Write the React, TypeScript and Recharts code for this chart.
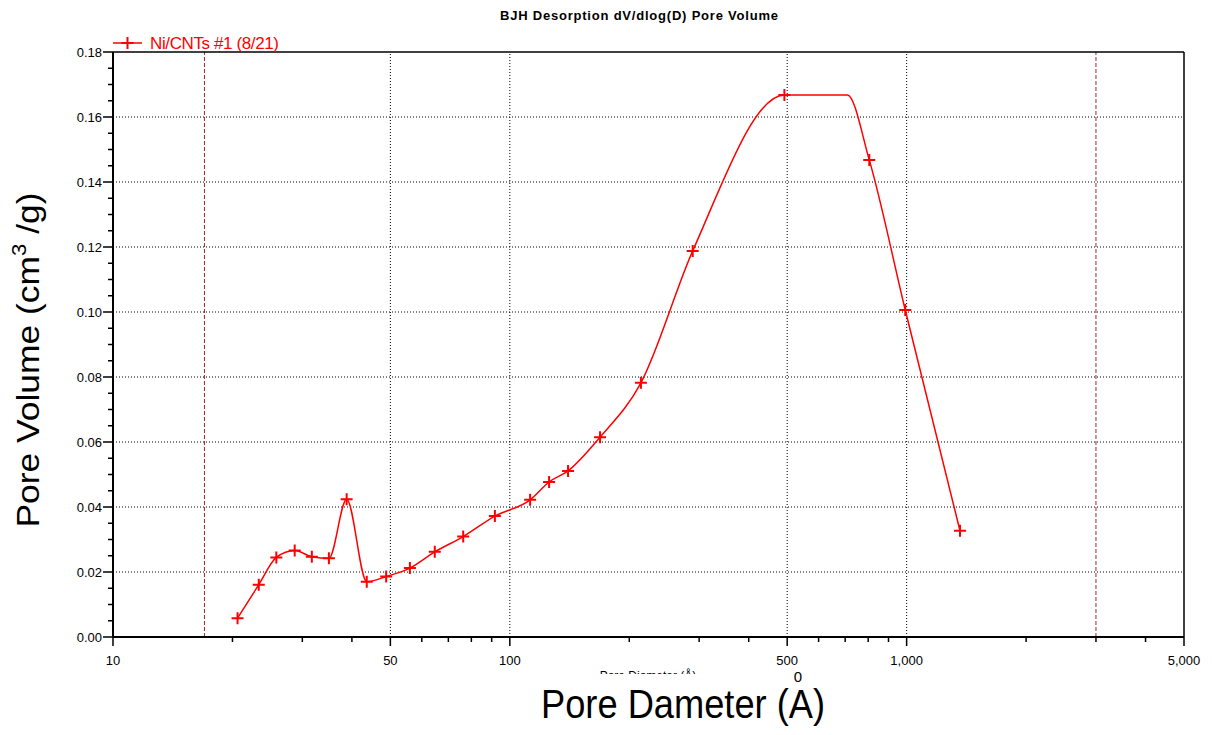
import React from "react"
import { LineChart, Line, XAxis, YAxis, ReferenceLine } from "recharts"

const FONT = '"Liberation Sans", Arial, Helvetica, sans-serif'

// BJH desorption points: pore diameter (Å) and dV/dlog(D) (cm³/g)
const poreDiameter = [
  20.6, 23.3, 25.8, 28.7, 31.7, 35.0, 38.8, 43.6, 48.8, 56.0, 64.7, 76.3,
  91.7, 112.5, 125.6, 140.2, 168.8, 214, 289, 492, 805, 992, 1363,
]
const poreVolume = [
  0.0058, 0.0161, 0.0245, 0.0266, 0.0247, 0.0242, 0.0424, 0.017, 0.0186,
  0.0212, 0.0262, 0.0309, 0.0372, 0.0422, 0.0477, 0.0511, 0.0615, 0.0782,
  0.1188, 0.1668, 0.1468, 0.1006, 0.0327,
]

// where the plotted curve leaves its flat top (no marker there)
const shoulderDiameter = [709]
const shoulderVolume = [0.1668]

// BJH calculation limits (red dashed)
const rangeLimits = [17, 3000]

// axis ticks
const xMajor = [10, 50, 100, 500, 1000, 5000]
const xMinor = [20, 30, 40, 60, 70, 80, 90, 200, 300, 400, 600, 700, 800, 900, 2000, 3000, 4000]
const xGrid = [50, 100, 500, 1000]
const yMajor = [0, 0.02, 0.04, 0.06, 0.08, 0.1, 0.12, 0.14, 0.16, 0.18]

const seriesName = "Ni/CNTs #1 (8/21)"

type Pt = { d: number; v: number; marked: boolean }

const lineData: Pt[] = [
  ...poreDiameter.map((d, i) => ({ d, v: poreVolume[i], marked: true })),
  ...shoulderDiameter.map((d, i) => ({ d, v: shoulderVolume[i], marked: false })),
].sort((a, b) => a.d - b.d)

const yTicks: number[] = []
yMajor.forEach((t, i) => {
  yTicks.push(t)
  if (i < yMajor.length - 1) {
    const step = (yMajor[i + 1] - t) / 4
    for (let k = 1; k < 4; k++) yTicks.push(+(t + step * k).toFixed(4))
  }
})
const xTicks = [...xMajor, ...xMinor].sort((a, b) => a - b)

const isMajorY = (v: number) => yMajor.some((m) => Math.abs(m - v) < 1e-6)

// tick marks of 5px come from tickLine; majors get a longer mark + label here
const XTick = (props: any) => {
  const { x, y, payload } = props
  const v = payload.value as number
  if (!xMajor.includes(v)) return <g />
  return (
    <g>
      <line x1={x} x2={x} y1={y} y2={y + 4} stroke="#000" strokeWidth={1.5} />
      <text x={x} y={y + 23} textAnchor="middle" fontSize={13} fontFamily={FONT} fill="#000">
        {v.toLocaleString("en-US")}
      </text>
    </g>
  )
}

const YTick = (props: any) => {
  const { x, y, payload } = props
  const v = payload.value as number
  if (!isMajorY(v)) return <g />
  return (
    <g>
      <line x1={x - 5} x2={x} y1={y} y2={y} stroke="#000" strokeWidth={1.5} />
      <text x={x - 6} y={y + 4.5} textAnchor="end" fontSize={13} fontFamily={FONT} fill="#000">
        {v.toFixed(2)}
      </text>
    </g>
  )
}

const Cross = (props: any) => {
  const { cx, cy, payload, index } = props
  if (!payload?.marked || cx == null || cy == null) return <g key={`c${index}`} />
  return (
    <path
      key={`c${index}`}
      d={`M${cx - 6},${cy}H${cx + 6}M${cx},${cy - 6}V${cy + 6}`}
      stroke="#ff0000"
      strokeWidth={2}
      fill="none"
    />
  )
}

export default function App() {
  return (
    <div style={{ position: "absolute", left: 0, top: 0, width: 1212, height: 735, background: "#fff" }}>
      <LineChart
        width={1212}
        height={735}
        data={lineData}
        margin={{ top: 52, right: 28, bottom: 68, left: 53 }}
      >
        {/* dotted grid */}
        {yMajor.slice(1, -1).map((v) => (
          <ReferenceLine key={`h${v}`} y={v} stroke="#000" strokeDasharray="1 2" strokeWidth={1} />
        ))}
        {xGrid.map((v) => (
          <ReferenceLine key={`v${v}`} x={v} stroke="#000" strokeDasharray="1 2" strokeWidth={1} />
        ))}
        {rangeLimits.map((v) => (
          <ReferenceLine key={`r${v}`} x={v} stroke="#a0282a" strokeDasharray="4 2" strokeWidth={1} />
        ))}
        {/* frame */}
        <ReferenceLine y={0.18} stroke="#000" strokeWidth={1.5} />
        <ReferenceLine x={5000} stroke="#000" strokeWidth={1.5} />

        <XAxis
          dataKey="d"
          type="number"
          scale="log"
          domain={[10, 5000]}
          allowDataOverflow
          ticks={xTicks}
          interval={0}
          tickSize={5}
          tickMargin={0}
          tickLine={{ stroke: "#000", strokeWidth: 1.5 }}
          tick={(p: any) => <XTick {...p} />}
          axisLine={{ stroke: "#000", strokeWidth: 2 }}
          height={30}
        />
        <YAxis
          type="number"
          domain={[0, 0.18]}
          allowDataOverflow
          ticks={yTicks}
          interval={0}
          tickSize={5}
          tickMargin={0}
          tickLine={{ stroke: "#000", strokeWidth: 1.5 }}
          tick={(p: any) => <YTick {...p} />}
          axisLine={{ stroke: "#000", strokeWidth: 2 }}
          width={60}
        />
        <Line
          type="monotone"
          dataKey="v"
          name={seriesName}
          stroke="#ff0000"
          strokeWidth={1.5}
          dot={Cross}
          activeDot={false}
          isAnimationActive={false}
        />
      </LineChart>

      <svg
        width={1212}
        height={735}
        style={{ position: "absolute", left: 0, top: 0, pointerEvents: "none" }}
        fontFamily={FONT}
      >
        <text x={639} y={20} textAnchor="middle" fontSize={13} fontWeight="bold" fill="#000" textLength={278}>
          BJH Desorption dV/dlog(D) Pore Volume
        </text>

        {/* legend */}
        <line x1={113} x2={142} y1={43} y2={43} stroke="#ff0000" strokeWidth={1.5} />
        <path d="M121.5,43H133.5M127.5,37V49" stroke="#ff0000" strokeWidth={2} />
        <text x={150} y={49} fontSize={17} fill="#ff0000" textLength={129}>
          {seriesName}
        </text>

        {/* y axis title */}
        <text
          x={39}
          y={360}
          transform="rotate(-90 39 360)"
          textAnchor="middle"
          fontSize={32}
          fill="#000"
          textLength={335}
          lengthAdjust="spacingAndGlyphs"
        >
          Pore Volume (cm
          <tspan dy={-13} fontSize={20}>3</tspan>
          <tspan dy={13}> /g)</tspan>
        </text>

        {/* original small x title, mostly covered */}
        <text x={648} y={680} textAnchor="middle" fontSize={12} fill="#000">
          Pore Diameter (Å)
        </text>
        <rect x={560} y={674} width={180} height={14} fill="#fff" />

        {/* big x title */}
        <text
          x={541}
          y={718}
          fontSize={40}
          fill="#000"
          textLength={284}
          lengthAdjust="spacingAndGlyphs"
        >
          Pore Dameter (A)
        </text>
        <text x={798} y={682} textAnchor="middle" fontSize={15} fill="#000">
          0
        </text>
      </svg>
    </div>
  )
}
